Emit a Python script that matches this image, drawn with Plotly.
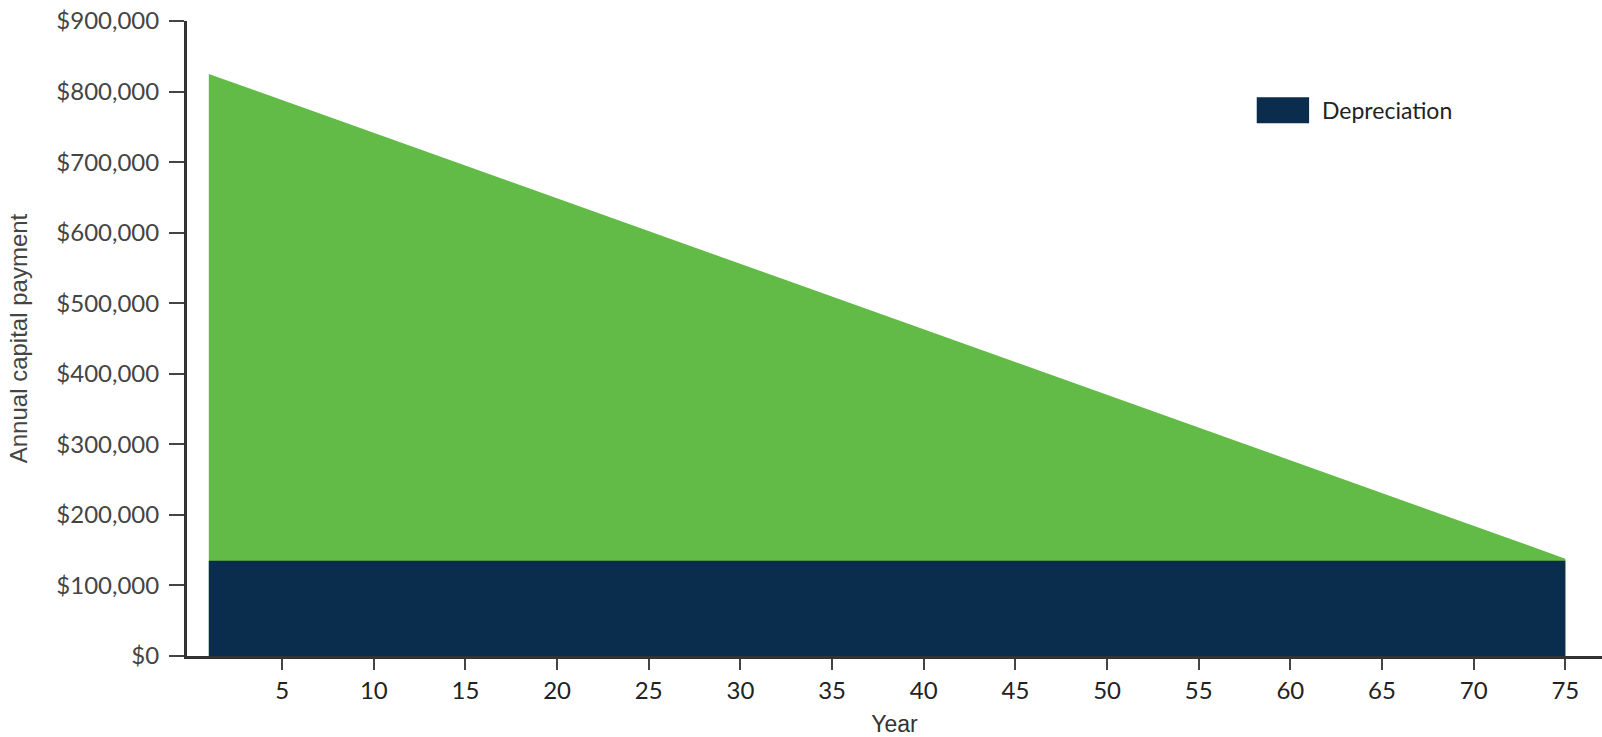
import plotly.graph_objects as go

years = [1, 75]
total_payment = [825000, 138000]
depreciation = [135000, 135000]
y_tickvals = [0, 100000, 200000, 300000, 400000, 500000, 600000, 700000, 800000, 900000]
y_ticktext = ["$0", "$100,000", "$200,000", "$300,000", "$400,000", "$500,000",
              "$600,000", "$700,000", "$800,000", "$900,000"]
x_tickvals = [5, 10, 15, 20, 25, 30, 35, 40, 45, 50, 55, 60, 65, 70, 75]

GREEN = "#62BB46"
NAVY = "#0A2D4D"

fig = go.Figure()
fig.add_trace(go.Scatter(x=years, y=total_payment, mode="lines", line=dict(width=0, color=GREEN),
                         fill="tozeroy", fillcolor=GREEN, showlegend=False, name="Interest"))
fig.add_trace(go.Scatter(x=years, y=depreciation, mode="lines", line=dict(width=0, color=NAVY),
                         fill="tozeroy", fillcolor=NAVY, showlegend=False, name="Depreciation"))

fig.update_layout(
    width=1602, height=737,
    margin=dict(l=187, r=0, t=21, b=81),
    paper_bgcolor="white", plot_bgcolor="white",
    font=dict(family="Lato", size=24, color="#444"),
    xaxis=dict(range=[-0.19, 77.0], tickvals=x_tickvals, showgrid=False, zeroline=False,
               showline=True, linecolor="#333", linewidth=3, ticks="outside", ticklen=11,
               tickwidth=2, tickcolor="#444", ticklabelstandoff=0,
               tickfont=dict(family="Lato", size=24, color="#222"),
               title=dict(text="Year", font=dict(family="Liberation Sans Narrow, Liberation Sans", size=23, color="#333"), standoff=16)),
    yaxis=dict(range=[0, 900000], tickvals=y_tickvals, ticktext=y_ticktext, showgrid=False,
               zeroline=False, showline=True, linecolor="#333", linewidth=3, ticks="outside",
               ticklen=15, tickwidth=2, tickcolor="#444", ticklabelstandoff=5,
               tickfont=dict(family="Lato", size=24, color="#444"),
               title=dict(text="Annual capital payment", font=dict(family="Liberation Sans", size=24, color="#444"), standoff=22)),
)

fig.add_shape(type="rect", xref="paper", yref="paper", x0=0.756, x1=0.793, y0=0.839, y1=0.880,
              fillcolor=NAVY, line=dict(width=0))
fig.add_annotation(xref="paper", yref="paper", x=0.801, y=0.860, text="Depreciation", showarrow=False,
                   xanchor="left", yanchor="middle", font=dict(family="Lato", size=23, color="#222"))

fig.write_html("out.html")
